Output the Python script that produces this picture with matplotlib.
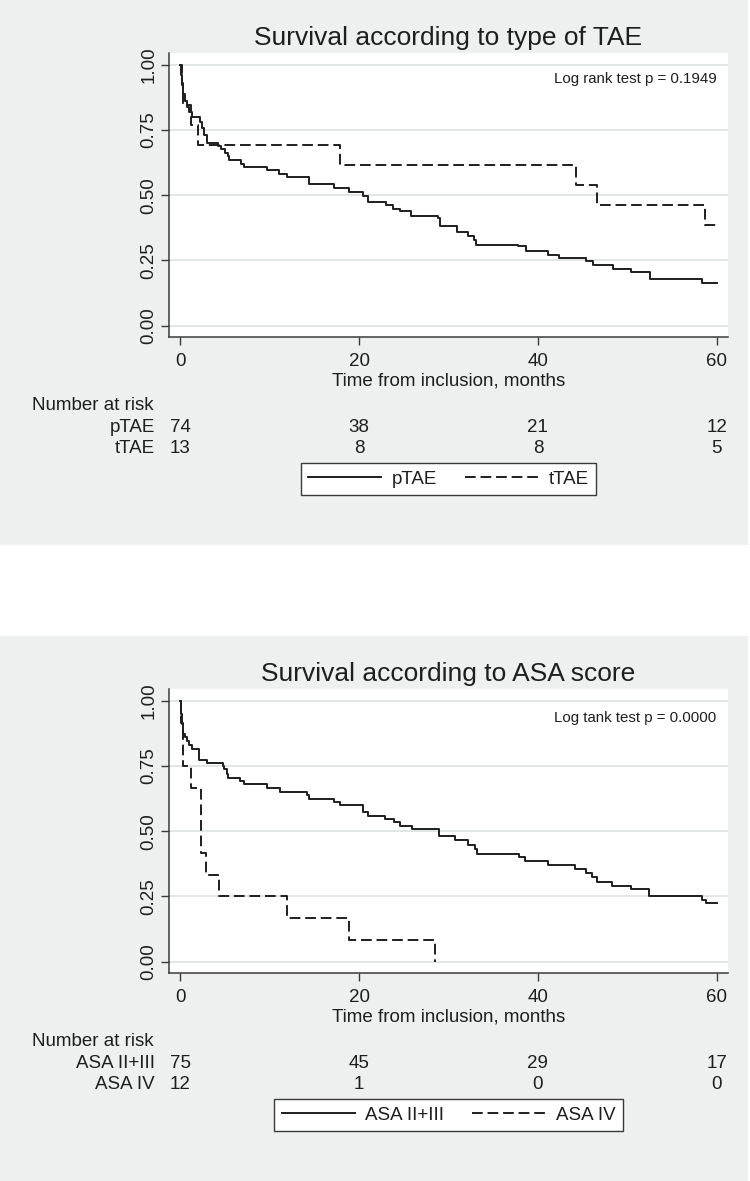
import matplotlib
matplotlib.use("Agg")
import matplotlib.pyplot as plt
from matplotlib.patches import Rectangle
from matplotlib.transforms import blended_transform_factory

plt.rcParams['font.family'] = ['Liberation Sans', 'DejaVu Sans']

W, H = 750, 1181
BG = '#eef0f0'
GRID = '#e1e4e4'
INK = '#1e1e1e'

# --- panel 1: type of TAE ---
ptae_t = [0, 0.1, 0.2, 0.35, 0.5, 0.8, 1.0, 1.27, 2.2, 2.4, 2.6, 2.95, 4.25, 4.6, 5.0, 5.3,
          5.5, 6.75, 7.15, 9.7, 11.06, 11.96, 14.4, 17.2, 18.9, 20.4, 21.0, 23.06, 23.8,
          24.55, 25.85, 28.8, 29.0, 30.9, 32.2, 32.9, 33.1, 37.8, 38.7, 41.1, 42.4, 45.4,
          46.2, 48.4, 50.4, 52.5, 58.3, 60]
ptae_s = [1, 0.96, 0.93, 0.89, 0.86, 0.84, 0.82, 0.80, 0.78, 0.76, 0.73, 0.70, 0.69, 0.676,
          0.662, 0.649, 0.636, 0.621, 0.608, 0.596, 0.583, 0.569, 0.543, 0.528, 0.514, 0.496,
          0.475, 0.464, 0.447, 0.438, 0.422, 0.413, 0.381, 0.359, 0.343, 0.33, 0.31, 0.304,
          0.285, 0.272, 0.26, 0.247, 0.231, 0.217, 0.204, 0.179, 0.164, 0.164]
ttae_t = [0, 0.15, 0.3, 1.15, 2.0, 17.85, 44.3, 46.6, 58.7, 60]
ttae_s = [1, 0.923, 0.846, 0.769, 0.692, 0.615, 0.538, 0.462, 0.385, 0.385]
tae_names = ['pTAE', 'tTAE']
tae_risk = [[74, 38, 21, 12], [13, 8, 8, 5]]

# --- panel 2: ASA score ---
asa23_t = [0, 0.1, 0.2, 0.34, 0.5, 0.71, 1.0, 1.27, 2.09, 3.02, 4.74, 4.89, 5.19, 5.37, 6.68,
           7.13, 9.74, 11.16, 14.2, 14.45, 17.2, 17.9, 20.4, 21.05, 22.85, 23.85, 24.6, 25.9,
           28.9, 30.76, 32.2, 33.0, 33.2, 37.85, 38.6, 41.1, 44.2, 45.4, 46.07, 46.6, 48.3,
           50.4, 52.4, 58.3, 58.8, 60]
asa23_s = [1, 0.95, 0.91, 0.875, 0.86, 0.845, 0.83, 0.814, 0.773, 0.763, 0.75, 0.74, 0.72,
           0.706, 0.693, 0.68, 0.665, 0.651, 0.638, 0.625, 0.612, 0.6, 0.574, 0.558, 0.548,
           0.535, 0.522, 0.507, 0.48, 0.465, 0.449, 0.43, 0.413, 0.4, 0.385, 0.372, 0.356,
           0.34, 0.323, 0.304, 0.291, 0.279, 0.253, 0.236, 0.225, 0.225]
asa4_t = [0, 0.1, 0.3, 1.2, 2.3, 2.9, 4.3, 11.9, 18.9, 28.5]
asa4_s = [1, 0.917, 0.75, 0.667, 0.417, 0.333, 0.25, 0.167, 0.083, 0.0]
asa_names = ['ASA II+III', 'ASA IV']
asa_risk = [[75, 45, 29, 17], [12, 1, 0, 0]]

risk_times = [0, 20, 40, 60]

fig = plt.figure(figsize=(W / 100, H / 100), dpi=100)
fig.patch.set_facecolor('white')


def fy(y):
    return 1 - y / H


def draw_panel(top, title, ptext, ptext_y, names, curves, risk):
    fig.patches.append(Rectangle((0, fy(top + 545)), 748 / W, 545 / H,
                                 transform=fig.transFigure, facecolor=BG,
                                 edgecolor='none', zorder=-10))
    ax = fig.add_axes([169 / W, fy(top + 337), 559 / W, 284 / H])
    ax.set_facecolor('white')
    styles = ['-', (0, (5.5, 2.5))]
    lines = []
    for (t, s), ls in zip(curves, styles):
        ln, = ax.step(t, s, where='post', color=INK, lw=1.4, linestyle=ls)
        lines.append(ln)
    ax.set_xlim(-1.26, 61.26)
    ax.set_ylim(-0.044, 1.046)
    ax.set_xticks(risk_times)
    ax.set_yticks([0, 0.25, 0.5, 0.75, 1.0])
    ax.set_yticklabels(['0.00', '0.25', '0.50', '0.75', '1.00'])
    ax.grid(axis='y', color=GRID, lw=1.3)
    ax.set_axisbelow(True)
    for sp in ['top', 'right']:
        ax.spines[sp].set_visible(False)
    for sp in ['left', 'bottom']:
        ax.spines[sp].set_color('#3a3a3a')
        ax.spines[sp].set_linewidth(1.1)
    ax.tick_params(direction='out', length=5.8, width=1, color='#3a3a3a',
                   labelcolor=INK, labelsize=13.5)
    ax.tick_params(axis='x', pad=5.5)
    ax.tick_params(axis='y', pad=2.3)
    for lab in ax.get_yticklabels():
        lab.set_rotation(90)
        lab.set_va('center')
    ax.text(60, ptext_y, ptext, ha='right', va='center', fontsize=10.8, color=INK)

    fig.text(448.5 / W, fy(top + 45), title, ha='center', va='baseline',
             fontsize=19, color=INK)
    fig.text(448.5 / W, fy(top + 385), 'Time from inclusion, months', ha='center',
             va='baseline', fontsize=13.5, color=INK)

    # number at risk table
    tr = blended_transform_factory(ax.transData, fig.transFigure)
    fig.text(154 / W, fy(top + 410), 'Number at risk', ha='right', va='baseline',
             fontsize=13.5, color=INK)
    for i, (name, row) in enumerate(zip(names, risk)):
        yb = fy(top + 431.7 + 21 * i)
        fig.text(155 / W, yb, name, ha='right', va='baseline', fontsize=13.5, color=INK)
        for t, n in zip(risk_times, row):
            ax.text(t, yb, str(n), transform=tr, ha='center', va='baseline',
                    fontsize=13.5, color=INK)

    leg = fig.legend(lines, names, loc='upper center',
                     bbox_to_anchor=(448.5 / W, fy(top + 463)), ncol=2, frameon=True,
                     fancybox=False, edgecolor='#3a3a3a', framealpha=1,
                     handlelength=3.9, handletextpad=0.55, columnspacing=1.5,
                     borderpad=0.4, borderaxespad=0, fontsize=13.5)
    leg.get_frame().set_linewidth(1.0)
    for txt in leg.get_texts():
        txt.set_color(INK)
    return ax


draw_panel(0, 'Survival according to type of TAE', 'Log rank test p = 0.1949', 0.946,
           tae_names, [(ptae_t, ptae_s), (ttae_t, ttae_s)], tae_risk)
draw_panel(636, 'Survival according to ASA score', 'Log tank test p = 0.0000', 0.935,
           asa_names, [(asa23_t, asa23_s), (asa4_t, asa4_s)], asa_risk)

fig.savefig('out.png', dpi=100, facecolor='white')
